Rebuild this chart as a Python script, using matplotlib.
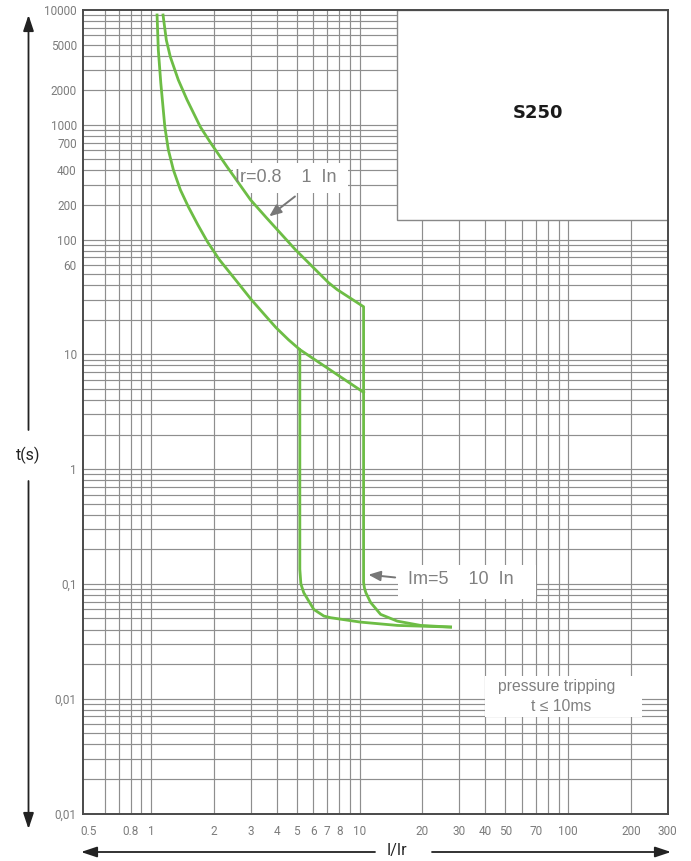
import matplotlib
matplotlib.use("Agg")
import matplotlib.pyplot as plt
from matplotlib.patches import Rectangle, FancyArrowPatch
from matplotlib.ticker import FixedLocator, FixedFormatter, NullFormatter

# ---------------- data ----------------
# Ir = 1 In curve (thermal part), then magnetic vertical at ~10 In and toe
curve_1_x = [1.142, 1.184, 1.238, 1.352, 1.489, 1.724, 1.931, 2.317, 3.0, 3.577, 4.928,
             7.099, 7.816, 10.45,
             10.45, 10.55, 10.72, 11.29, 12.61, 15.17, 19.63, 27.3]
curve_1_y = [9048, 5483, 3897, 2458, 1648, 958, 696, 430, 222, 154.8, 81.5,
             42.1, 36.6, 26.0,
             0.103, 0.092, 0.0838, 0.069, 0.0543, 0.0474, 0.0435, 0.0421]

# Ir = 0.8 In curve, then magnetic vertical at ~5 In and toe
curve_08_x = [1.069, 1.084, 1.114, 1.165, 1.211, 1.280, 1.383, 1.510, 1.677, 1.864, 2.128,
              2.540, 3.030, 3.499, 3.973, 4.562, 5.17,
              5.17, 5.23, 5.4, 6.03, 6.74, 7.26, 10.1, 15.17, 27.3]
curve_08_y = [9048, 4488, 2316, 958, 605, 405, 271, 193, 134.5, 95.7, 66.7,
              44.7, 29.9, 22.2, 17.1, 13.4, 11.0,
              0.134, 0.100, 0.0838, 0.060, 0.0525, 0.0508, 0.0465, 0.0435, 0.0421]

# link line between the two curves
link_x = [5.17, 10.45]
link_y = [11.0, 4.67]

x_ticks = [0.5, 0.8, 1, 2, 3, 4, 5, 6, 7, 8, 10, 20, 30, 40, 50, 70, 100, 200, 300]
x_tick_labels = ["0.5", "0.8", "1", "2", "3", "4", "5", "6", "7", "8", "10",
                 "20", "30", "40", "50", "70", "100", "200", "300"]
y_ticks = [10000, 5000, 2000, 1000, 700, 400, 200, 100, 60, 10, 1, 0.1, 0.01, 0.001]
y_tick_labels = ["10000", "5000", "2000", "1000", "700", "400", "200", "100", "60",
                 "10", "1", "0,1", "0,01", "0,01"]

# ---------------- figure ----------------
W, H = 691, 861
fig = plt.figure(figsize=(W / 100, H / 100), dpi=100)
L, R, T, B = 83, 667.7, 10, 813.5
ax = fig.add_axes([L / W, 1 - B / H, (R - L) / W, (B - T) / H])

def fx(px):
    return px / W

def fy(py):
    return 1 - py / H

ax.set_xscale("log")
ax.set_yscale("log")
ax.set_xlim(0.472, 300)
ax.set_ylim(0.001, 10000)

grid_col = "#8e8e8e"
x_minor = [m * 10.0 ** e for e in range(-1, 3) for m in range(1, 10)]
x_minor = [v for v in x_minor if 0.55 < v < 299]
ax.xaxis.set_major_locator(FixedLocator(x_ticks))
ax.xaxis.set_major_formatter(FixedFormatter(x_tick_labels))
ax.xaxis.set_minor_locator(FixedLocator(x_minor))
ax.xaxis.set_minor_formatter(NullFormatter())
ax.xaxis.remove_overlapping_locs = False

y_minor = [m * 10.0 ** e for e in range(-3, 4) for m in range(1, 10)]
ax.yaxis.set_major_locator(FixedLocator(y_ticks))
ax.yaxis.set_major_formatter(FixedFormatter(y_tick_labels))
ax.yaxis.set_minor_locator(FixedLocator(y_minor))
ax.yaxis.set_minor_formatter(NullFormatter())
ax.yaxis.remove_overlapping_locs = False

ax.grid(False, which="major")
ax.grid(True, which="minor", color=grid_col, lw=0.85)
ax.set_axisbelow(True)
ax.tick_params(which="both", length=0)
ax.tick_params(axis="x", pad=8, labelsize=8.5, labelcolor="#7c7c7c")
ax.tick_params(axis="y", pad=4.5, labelsize=8.5, labelcolor="#7c7c7c")
for lab in ax.get_xticklabels() + ax.get_yticklabels():
    lab.set_fontfamily("Roboto")

for s in ax.spines.values():
    s.set_color("#4a4a4a")
    s.set_linewidth(1.4)

# white boxes
ax.add_patch(Rectangle((15.06, 148.6), 300 - 15.06, 10000 - 148.6, facecolor="white",
                       edgecolor="#888888", lw=1.0, zorder=2))
ax.text(71.3, 1269, "S250", ha="center", va="center", fontsize=13, fontweight="bold",
        color="#1a1a1a", family="DejaVu Sans", zorder=3)

ax.add_patch(Rectangle((2.484, 255.5), 8.76 - 2.484, 466 - 255.5, facecolor="white",
                       edgecolor="none", zorder=2))
ax.add_patch(Rectangle((15.22, 0.0733), 69.98 - 15.22, 0.1449 - 0.0733, facecolor="white",
                       edgecolor="none", zorder=2))
ax.add_patch(Rectangle((39.8, 0.00689), 226 - 39.8, 0.01567 - 0.00689, facecolor="white",
                       edgecolor="none", zorder=2))

green = "#6dbd45"
ax.plot(curve_1_x, curve_1_y, color=green, lw=2.0, zorder=4, solid_joinstyle="round")
ax.plot(curve_08_x, curve_08_y, color=green, lw=2.0, zorder=4, solid_joinstyle="round")
ax.plot(link_x, link_y, color=green, lw=2.0, zorder=4)

lab_col = "#808080"
ax.text(2.54, 348.5, "Ir=0.8    1  In", ha="left", va="center", fontsize=13,
        color=lab_col, family="Liberation Sans", zorder=5)
ax.annotate("", xy=(3.6, 154), xytext=(5.02, 245.6),
            arrowprops=dict(arrowstyle="-|>,head_length=0.6,head_width=0.25",
                            color="#777777", lw=1.4, mutation_scale=12), zorder=5)
ax.text(17.0, 0.1094, "Im=5    10  In", ha="left", va="center", fontsize=13,
        color=lab_col, family="Liberation Sans", zorder=5)
ax.annotate("", xy=(10.69, 0.121), xytext=(15.27, 0.1132),
            arrowprops=dict(arrowstyle="-|>,head_length=0.6,head_width=0.25",
                            color="#777777", lw=1.4, mutation_scale=12), zorder=5)
ax.text(88.3, 0.0129, "pressure tripping", ha="center", va="center", fontsize=11.3,
        color=lab_col, family="Liberation Sans", zorder=5)
ax.text(92.2, 0.00864, "t \u2264 10ms", ha="center", va="center", fontsize=11.3,
        color=lab_col, family=["Liberation Sans", "DejaVu Sans"], zorder=5)

# axis labels with arrows
fig.text(fx(28.5), fy(455), "t(s)", ha="center", va="center", fontsize=11.5,
         color="#222222", family="Roboto")
fig.text(fx(397), fy(851), "I/Ir", ha="center", va="center", fontsize=11.5,
         color="#222222", family="Roboto")

astyle = "-|>,head_length=0.6,head_width=0.2"
for (x0, y0, x1, y1) in [(28.5, 430, 28.5, 15), (28.5, 481, 28.5, 829),
                         (375, 852, 81, 852), (432, 852, 671, 852)]:
    fig.add_artist(FancyArrowPatch((fx(x0), fy(y0)), (fx(x1), fy(y1)),
                                   transform=fig.transFigure, arrowstyle=astyle,
                                   mutation_scale=16, color="#222222", lw=1.3,
                                   shrinkA=0, shrinkB=0))

fig.savefig("out.png", dpi=100)
